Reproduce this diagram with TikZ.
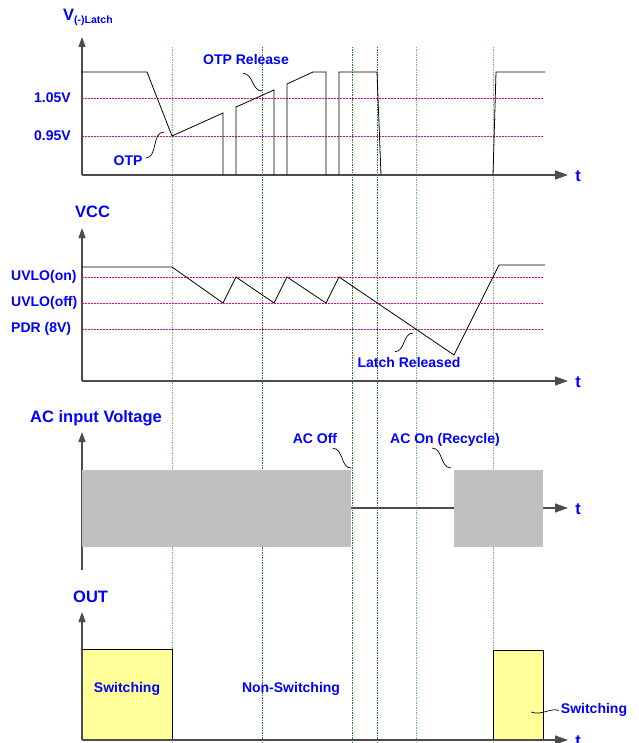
\documentclass[tikz,border=0pt]{standalone}
\usepackage{fontspec}
\setmainfont{Liberation Sans}
\usetikzlibrary{arrows.meta, positioning, calc}

\definecolor{acgray}{RGB}{192,192,192}
\definecolor{swyellow}{RGB}{255,255,153}
\definecolor{guidedk}{RGB}{30,130,30}
\definecolor{guidelt}{RGB}{110,190,110}

\tikzset{
    lbl/.style={font=\fontsize{14}{16}\selectfont\bfseries, text=blue, inner sep=0pt},
    ttl/.style={font=\fontsize{16.5}{19}\selectfont\bfseries, text=blue, inner sep=0pt},
    xaxis/.style={draw=black!70, line width=1.2pt, -{Triangle[length=13pt,width=9pt]}},
    yaxis/.style={draw=black!70, line width=1.2pt, -{Triangle[length=10pt,width=7pt]}},
    sig/.style={line width=0.8pt},
    lvl/.style={magenta, line width=0.8pt, dash pattern=on 2pt off 1pt},
    gdk/.style={guidedk, line width=0.8pt, dash pattern=on 1.5pt off 1pt},
    glt/.style={guidelt, line width=0.8pt, dash pattern=on 1.5pt off 1pt},
    tie/.style={line width=0.7pt},
}

\begin{document}
\begin{tikzpicture}[x=1pt, y=-1pt]
        \useasboundingbox (0,0) rectangle (638,743);

        \foreach \x/\s in {172/glt, 262/gdk, 352/gdk, 377/gdk, 416/glt, 493/glt}
            \draw[\s] (\x,47) -- (\x,743);

        \foreach \y in {98,136}
            \draw[lvl] (82,\y) -- (543,\y);
        \foreach \y in {277,303,329}
            \draw[lvl] (82,\y) -- (543,\y);

        \draw[yaxis] (82,175) -- (82,37);
        \draw[xaxis] (82,175) -- (568,175);
        \draw[yaxis] (82,381) -- (82,228);
        \draw[xaxis] (82,381) -- (568,381);
        \draw[yaxis] (82,570) -- (82,432);
        \draw[xaxis] (82,508) -- (568,508);

        \fill[acgray] (82,470) rectangle (351,547) coordinate (acA);
        \fill[acgray] (454,470) coordinate (acB) rectangle (543,547);

        \draw[sig, fill=swyellow] (82,649) rectangle (172,740);
        \draw[sig, fill=swyellow] (493,650) rectangle (543,740);
        \draw[yaxis] (82,740) -- (82,612);
        \draw[xaxis] (82,740) -- (568,740);

        \draw[sig] (82,72) -- (147,72) -- (172,136) coordinate (otppt) -- (223,113) -- (223,175);
        \draw[sig] (236,175) -- (236,107) -- (274,90) -- (274,175);
        \draw[sig] (287,175) -- (287,84) -- (313,72) -- (326,72) -- (326,175);
        \draw[sig] (339,175) -- (339,72) -- (377,72) -- (381,175);
        \draw[sig] (493,175) -- (496,72) -- (545,72);

        \draw[sig] (82,267) -- (172,267) -- (223,303) -- (236,277) -- (274,303)
            -- (287,277) -- (326,303) -- (339,277) -- (454,355) -- (499,265) -- (545,265);

        \node[ttl, anchor=base west] (vlatch) at (63,21)
            {V\raisebox{-2.5pt}{\fontsize{10.5}{12}\selectfont(-)Latch}};
        \node[ttl, anchor=base west] (vcc) at (75,218) {VCC};
        \node[ttl, anchor=base west] (acin) at (30,422) {AC input Voltage};
        \node[ttl, anchor=base west] (out) at (73,602) {OUT};

        \foreach \y/\n in {176/t1, 382/t2, 509/t3, 741/t4}
            \node[ttl, anchor=center] (\n) at (578,\y) {t};

        \node[lbl, anchor=west] (l105) at (34,98) {1.05V};
        \node[lbl, anchor=west] (l095) at (34,136) {0.95V};
        \node[lbl, anchor=west] (uon) at (11,277) {UVLO(on)};
        \node[lbl, anchor=west] (uoff) at (11,303) {UVLO(off)};
        \node[lbl, anchor=west] (pdr) at (11,329) {PDR (8V)};

        \node[lbl] (otp) at (128,161) {OTP};
        \node[lbl] (otprel) at (246,59) {OTP Release};
        \node[lbl] (latch) at (409,362) {Latch Released};
        \node[lbl] (acoff) at (315,438) {AC Off};
        \node[lbl, anchor=base] (acon) at (445,443) {AC On (Recycle)};
        \node[lbl, anchor=base] (sw1) at (127,692) {Switching};
        \node[lbl, anchor=base] (nsw) at (291,692) {Non-Switching};
        \node[lbl, anchor=base] (sw2) at (594,713) {Switching};

        \coordinate (relpt) at (262,91);
        \coordinate (latchpt) at (413,333);
        \coordinate (swpt) at (531,712);

        \draw[tie] ([xshift=3pt,yshift=3pt]otp.east) to[out=0, in=180] ([xshift=-8pt,yshift=4pt]otppt);
        \draw[tie] ([xshift=-3pt,yshift=-9pt]otprel.south) to[out=0, in=180] (relpt);
        \draw[tie] ([xshift=-14pt,yshift=5pt]latch.north) to[out=0, in=180] (latchpt);
        \draw[tie] ([xshift=18pt,yshift=-5pt]acoff.south) to[out=0, in=180] ([yshift=2pt]acA |- acB);
        \draw[tie] ([xshift=-13pt,yshift=-5pt]acon.base) to[out=0, in=180] ([xshift=-3pt,yshift=2pt]acB);
        \draw[tie] (swpt) .. controls +(10,4) and +(-8,-3) .. ([xshift=-2pt,yshift=-1pt]sw2.west);
\end{tikzpicture}
\end{document}
